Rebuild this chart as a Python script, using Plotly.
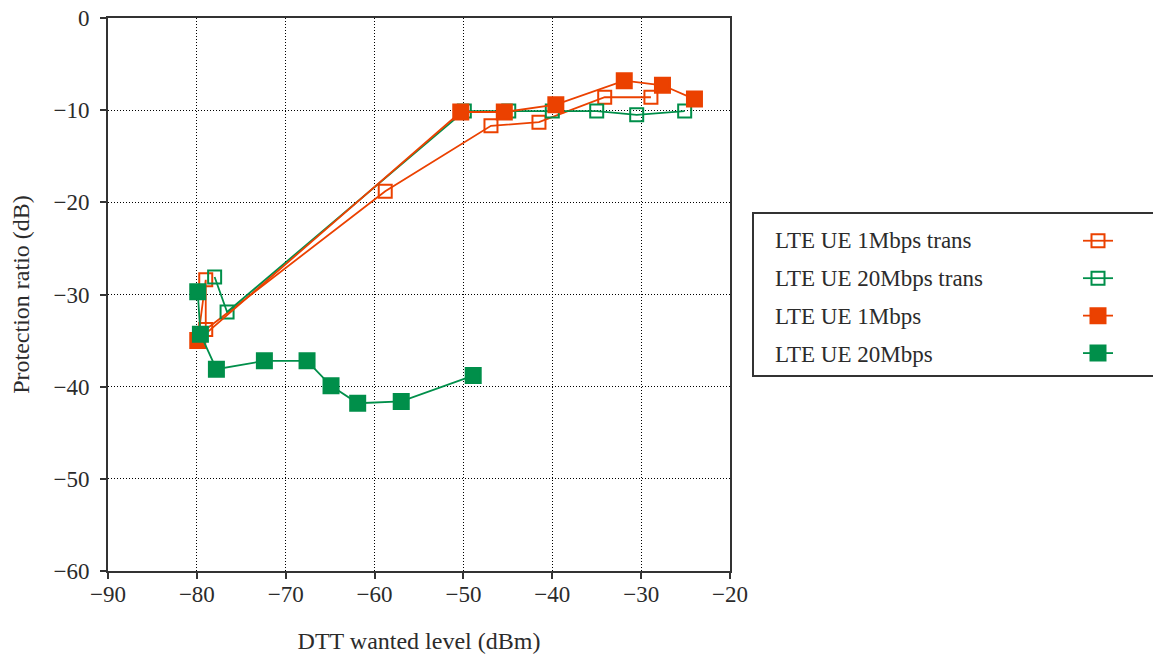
import plotly.graph_objects as go

# ---- data ----
trans1_x = [-79.9, -79.0, -79.0, -58.8, -46.9, -41.5, -34.1, -28.9]
trans1_y = [-35.0, -28.4, -33.8, -18.8, -11.7, -11.3, -8.6, -8.6]

trans20_x = [-78.0, -76.6, -49.9, -44.9, -40.0, -35.0, -30.5, -25.1]
trans20_y = [-28.1, -31.9, -10.1, -10.1, -10.1, -10.1, -10.5, -10.1]

ue1_x = [-79.9, -50.3, -45.4, -39.6, -31.9, -27.6, -24.0]
ue1_y = [-35.0, -10.2, -10.2, -9.4, -6.8, -7.3, -8.8]

ue20_x = [-79.9, -79.6, -77.8, -72.4, -67.6, -64.9, -61.9, -57.0, -48.9]
ue20_y = [-29.7, -34.3, -38.1, -37.2, -37.2, -39.9, -41.8, -41.6, -38.8]

series_names = ["LTE UE 1Mbps trans", "LTE UE 20Mbps trans", "LTE UE 1Mbps", "LTE UE 20Mbps"]
x_ticks = [-90, -80, -70, -60, -50, -40, -30, -20]
y_ticks = [0, -10, -20, -30, -40, -50, -60]

ORANGE = "#EB4100"
GREEN = "#008F4A"
FONT = "Liberation Serif"
TXT = "#2b2b2b"

# page offset (browser body margin)
OFF = 8
# plot area in page pixels (reference)
L, R, T, B = 108, 730, 18, 571
W, H = 1161 - OFF, 655 - OFF


def px(xp):
    return (xp - L) / (R - L)


def py(yp):
    return (B - yp) / (B - T)


fig = go.Figure()
specs = [
    (trans1_x, trans1_y, ORANGE, "square-open", 13),
    (trans20_x, trans20_y, GREEN, "square-open", 13),
    (ue1_x, ue1_y, ORANGE, "square", 15),
    (ue20_x, ue20_y, GREEN, "square", 15),
]
for (xs, ys, col, sym, sz), name in zip(specs, series_names):
    fig.add_trace(go.Scatter(
        x=xs, y=ys, mode="lines+markers", name=" ",
        line=dict(color=col, width=1.8),
        marker=dict(symbol=sym, size=sz, color=col, line=dict(color=col, width=2)),
    ))

axis_common = dict(
    showline=True, linecolor="#333333", linewidth=2, mirror=True,
    ticks="outside", ticklen=6, tickwidth=2, tickcolor="#333333",
    showgrid=True, gridcolor="#000000", gridwidth=1, griddash="1px,2px",
    zeroline=False, tickfont=dict(family=FONT, size=23, color=TXT),
    ticklabeloverflow="allow",
)

fig.update_xaxes(range=[-90, -20], tickvals=x_ticks, ticklabelstandoff=-5,
                 title=dict(text="DTT wanted level (dBm)", font=dict(family=FONT, size=24, color=TXT), standoff=27),
                 **axis_common)
fig.update_yaxes(range=[-60, 0], tickvals=y_ticks, ticklabelstandoff=6,
                 title=dict(text="Protection ratio (dB)", font=dict(family=FONT, size=24, color=TXT), standoff=20),
                 **axis_common)

# legend box and labels (symbols come from the native legend)
legend_top, legend_bottom = 213, 376
fig.add_shape(type="rect", xref="paper", yref="paper",
              x0=px(753), x1=px(1160), y0=py(legend_bottom), y1=py(legend_top),
              line=dict(color="#333333", width=2), fillcolor="rgba(0,0,0,0)")
label_y = [240.7, 278.3, 316.7, 354.0]
for name, yy in zip(series_names, label_y):
    fig.add_annotation(text=name, xref="paper", yref="paper", x=px(773), y=py(yy),
                       xanchor="left", yanchor="middle", showarrow=False,
                       font=dict(family=FONT, size=23, color=TXT))

fig.update_layout(
    width=W, height=H,
    margin=dict(l=L - OFF, r=W - (R - OFF), t=T - OFF, b=H - (B - OFF), autoexpand=False),
    paper_bgcolor="white", plot_bgcolor="white",
    font=dict(family=FONT, color=TXT),
    showlegend=True,
    legend=dict(x=px(1078), y=py(217), xanchor="left", yanchor="top",
                bgcolor="rgba(0,0,0,0)", borderwidth=0,
                font=dict(family=FONT, size=26.5), tracegroupgap=0,
                itemclick=False, itemdoubleclick=False),
)

fig.write_html("out.html")
